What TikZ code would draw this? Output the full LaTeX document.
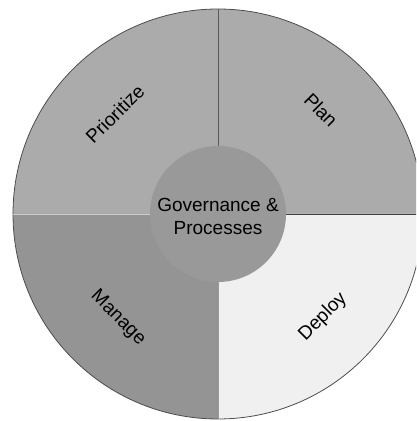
\documentclass[tikz,border=0pt]{standalone}
\usepackage{fontspec}
\setmainfont{Liberation Sans}
\begin{document}
\begin{tikzpicture}[x=1pt,y=1pt,
  lbl/.style={font=\fontsize{19}{23}\selectfont, text=black, align=center, inner sep=0pt},
  sector/.style={draw=none}]
\useasboundingbox (0,0) rectangle (416,421);
\clip (0,0) rectangle (416,421);
\coordinate (C) at (218,207);
% sectors
\fill[sector, fill=black!33] (C) -- ++(205,0) arc[start angle=0, end angle=90, radius=205] -- cycle;
\fill[sector, fill=black!33] (C) -- ++(0,205) arc[start angle=90, end angle=180, radius=205] -- cycle;
\fill[sector, fill=black!42] (C) -- ++(-205,0) arc[start angle=180, end angle=270, radius=205] -- cycle;
\fill[sector, fill=black!6] (C) -- ++(0,-205) arc[start angle=270, end angle=360, radius=205] -- cycle;
% outer outline
\draw[black!70, line width=0.8pt] (C) circle[radius=205];
% dividers
\coordinate (topEnd) at (218,412);
\coordinate (leftEnd) at (13,207);
\coordinate (rightEnd) at (423,207);
\coordinate (botEnd) at (218,2);
\draw[black!65, line width=0.6pt] (topEnd) -- (C);
\draw[black!20, line width=0.6pt] (leftEnd) -- (C);
\draw[black!75, line width=0.8pt] (rightEnd) -- (C);
\draw[black!40, line width=0.6pt] (botEnd) -- (C);
% centre
\node[circle, fill=black!40, draw=none, minimum size=136pt, inner sep=0pt] (hub) at (C) {};
\node[lbl] (gov) at (218,205) {Governance \&\\Processes};
% labels
\node[lbl, rotate=45] (prio) at (115,307) {Prioritize};
\node[lbl, rotate=-45] (plan) at (321,311) {Plan};
\node[lbl, rotate=-45] (manage) at (118,103) {Manage};
\node[lbl, rotate=45] (deploy) at (323,104) {Deploy};
\end{tikzpicture}
\end{document}
